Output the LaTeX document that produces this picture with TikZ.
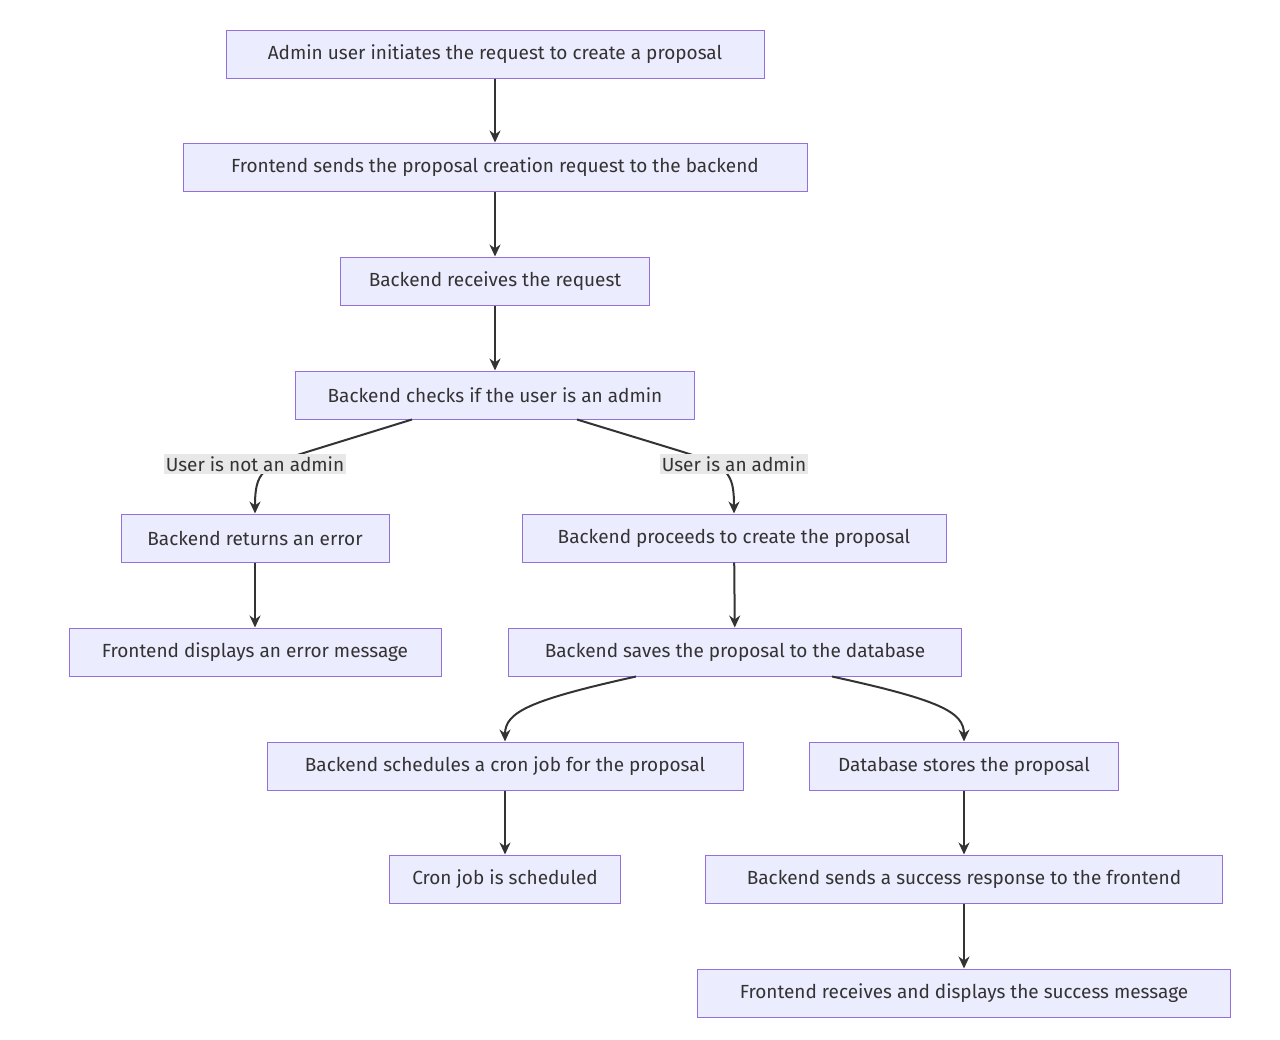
\documentclass[tikz,border=0pt]{standalone}
\usepackage{fontspec}
\setmainfont{Fira Sans}
\usetikzlibrary{arrows.meta}
\definecolor{nfill}{HTML}{ECECFF}
\definecolor{nborder}{HTML}{9370DB}
\definecolor{edge}{HTML}{333333}
\definecolor{lbg}{HTML}{E8E8E8}
\begin{document}
\begin{tikzpicture}[x=1pt,y=-1pt,
  box/.style={draw=nborder,fill=nfill,line width=1pt,minimum height=48pt,inner xsep=0pt,text=edge,font=\fontsize{19}{22}\selectfont},
  arr/.style={draw=edge,line width=2pt,-{Stealth[length=12pt,width=11pt]}},
  lbl/.style={fill=lbg,text=edge,inner sep=2pt,font=\fontsize{19}{22}\selectfont}]
\useasboundingbox (0,0) rectangle (1280,1039);
\node[box,minimum width=538pt] (n1) at (495,54) {Admin user initiates the request to create a proposal};
\node[box,minimum width=624pt] (n2) at (495,167) {Frontend sends the proposal creation request to the backend};
\node[box,minimum width=309pt] (n3) at (495,281) {Backend receives the request};
\node[box,minimum width=399pt] (n4) at (495,395) {Backend checks if the user is an admin};
\node[box,minimum width=268pt] (n5) at (255,538) {Backend returns an error};
\node[box,minimum width=372pt] (n6) at (255,652) {Frontend displays an error message};
\node[box,minimum width=424pt] (n7) at (734,538) {Backend proceeds to create the proposal};
\node[box,minimum width=453pt] (n8) at (735,652) {Backend saves the proposal to the database};
\node[box,minimum width=476pt] (n9) at (505,766) {Backend schedules a cron job for the proposal};
\node[box,minimum width=309pt] (n10) at (964,766) {Database stores the proposal};
\node[box,minimum width=231pt] (n11) at (505,879) {Cron job is scheduled};
\node[box,minimum width=517pt] (n12) at (964,879) {Backend sends a success response to the frontend};
\node[box,minimum width=533pt] (n13) at (964,993) {Frontend receives and displays the success message};
\draw[arr] (n1) -- (n2);
\draw[arr] (n2) -- (n3);
\draw[arr] (n3) -- (n4);
\draw[arr] ([xshift=-83pt]n4.south) -- (310,451) .. controls (262,466) and (255,472) .. (n5.north);
\draw[arr] ([xshift=82pt]n4.south) -- (680,451) .. controls (728,466) and (734,472) .. (n7.north);
\node[lbl] (l1) at (255,464) {User is not an admin};
\node[lbl] (l2) at (734,464) {User is an admin};
\draw[arr] (n5) -- (n6);
\draw[arr] (n7) -- (n8);
\draw[arr] ([xshift=-99pt]n8.south) .. controls (530,700) and (505,712) .. (n9.north);
\draw[arr] ([xshift=97pt]n8.south) .. controls (940,700) and (964,712) .. (n10.north);
\draw[arr] (n9) -- (n11);
\draw[arr] (n10) -- (n12);
\draw[arr] (n12) -- (n13);
\end{tikzpicture}
\end{document}
